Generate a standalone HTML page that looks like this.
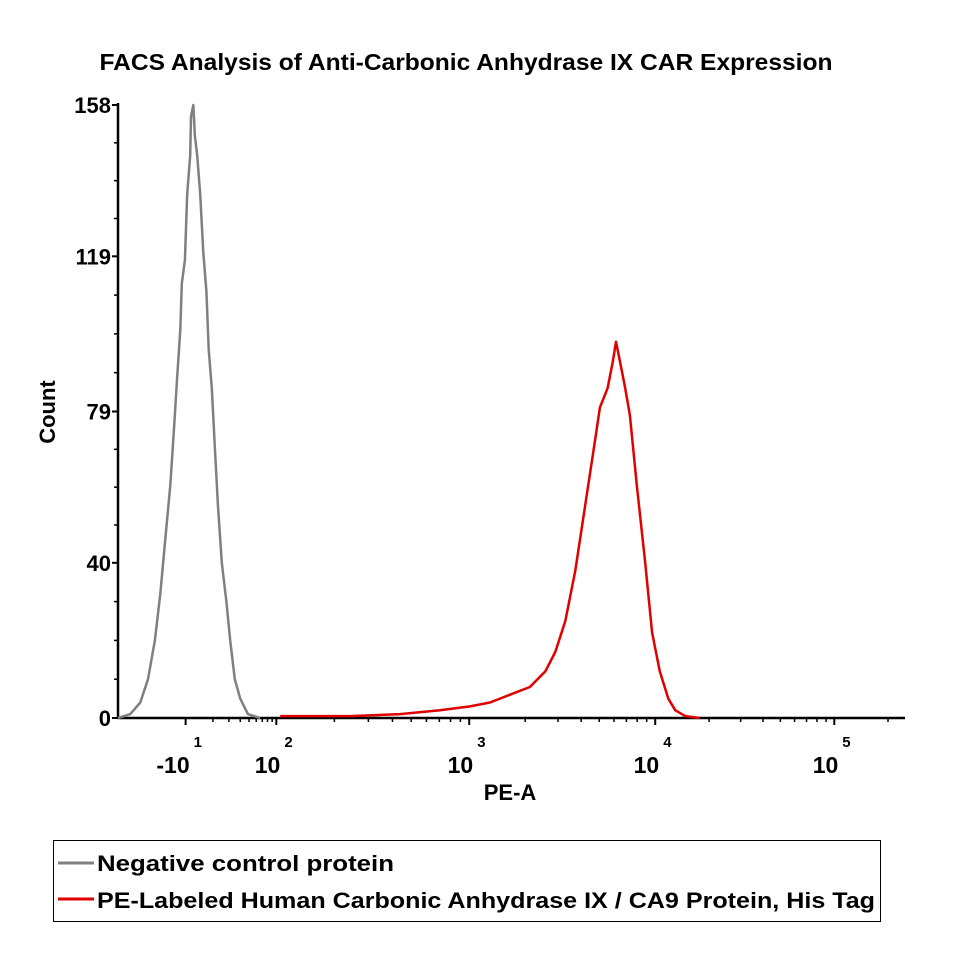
<!DOCTYPE html>
<html><head><meta charset="utf-8"><style>body{margin:0;background:#fff}svg{display:block;font-family:"Liberation Sans",sans-serif}</style></head>
<body>
<svg id="c" width="965" height="965">
<text x="466" y="70" text-anchor="middle" font-size="23" font-weight="bold" textLength="733" lengthAdjust="spacingAndGlyphs">FACS Analysis of Anti-Carbonic Anhydrase IX CAR Expression</text>
<g id="axes"></g>
<text x="55" y="412" font-size="22" font-weight="bold" transform="rotate(-90 55 412)" text-anchor="middle">Count</text>
<text x="510" y="800" font-size="22" font-weight="bold" text-anchor="middle">PE-A</text>
<g>
<rect x="53.5" y="840.5" width="827" height="81" fill="none" stroke="#000" stroke-width="1"/>
<g><line x1="58" y1="863" x2="94" y2="863" stroke="#808080" stroke-width="3"/><text x="97" y="871" font-size="22" font-weight="bold" textLength="297" lengthAdjust="spacingAndGlyphs">Negative control protein</text></g>
<g><line x1="58" y1="899" x2="94" y2="899" stroke="#e00000" stroke-width="3"/><text x="97" y="908" font-size="22" font-weight="bold" textLength="778" lengthAdjust="spacingAndGlyphs">PE-Labeled Human Carbonic Anhydrase IX / CA9 Protein, His Tag</text></g>
</g>
</svg>
<script>
const yTicks=[0,40,79,119,158];
const xTickChannels=[88,206,457,699,932];
const xTickBase=["-10","10","10","10","10"];
const xTickExp=["1","2","3","4","5"];
const grayX=[0,16,29,39,48,55,61,68,73,77,81,83,87,90,94,95,98,100,103,107,111,115,118,122,126,130,135,141,146,152,159,169,185];
const grayY=[0,1,4,10,20,32,45,60,75,88,100,112,118,135,145,155,158,150,145,135,120,110,95,85,70,55,40,30,20,10,5,1,0];
const redX=[211,302,367,419,458,484,510,536,556,569,582,595,608,621,627,637,644,648,653,660,666,675,686,695,705,716,725,738,757];
const redY=[0.5,0.5,1,2,3,4,6,8,12,17,25,38,55,72,80,85,92,97,92,85,78,60,40,22,12,5,2,0.5,0];
const X0=118,X1=905,Y0=718,Y1=105;
function xs(c){return X0+c*(X1-X0)/1024;}
function ys(v){return Y0-v*(Y0-Y1)/158;}
const NS="http://www.w3.org/2000/svg";
const svg=document.getElementById('c'),ax=document.getElementById('axes');
function mk(t,a,p){const e=document.createElementNS(NS,t);for(const k in a)e.setAttribute(k,a[k]);(p||svg).appendChild(e);return e;}
let e;
e=mk('line',{x1:X0,y1:Y0,x2:X1,y2:Y0,stroke:'#000','stroke-width':2.5},ax);


e=mk('line',{x1:X0,y1:Y0+1,x2:X0,y2:Y1-2,stroke:'#000','stroke-width':2.5},ax);


for(let i=0;i<yTicks.length;i++){
  const y=ys(yTicks[i]);
  mk('line',{x1:X0-6,y1:y,x2:X0,y2:y,stroke:'#000','stroke-width':2},ax);
  e=mk('text',{x:X0-7,y:y+8,'font-size':22,'font-weight':'bold','text-anchor':'end'},ax);
  e.textContent=yTicks[i];
  
  
  if(i<yTicks.length-1){for(let k=1;k<4;k++){const v=yTicks[i]+(yTicks[i+1]-yTicks[i])*k/4;const yy=ys(v);mk('line',{x1:X0-4,y1:yy,x2:X0,y2:yy,stroke:'#000','stroke-width':1.5},ax);}}
}
for(let i=0;i<xTickChannels.length;i++){
  const x=xs(xTickChannels[i]);
  mk('line',{x1:x,y1:Y0,x2:x,y2:Y0+7,stroke:'#000','stroke-width':2},ax);
  if(i>0){const a=xTickChannels[i-1],b=xTickChannels[i];for(let k=2;k<10;k++){const c=a+(b-a)*Math.log10(k);mk('line',{x1:xs(c),y1:Y0,x2:xs(c),y2:Y0+4,stroke:'#000','stroke-width':1.5},ax);}}
  e=mk('text',{x:x+4,y:773,'font-size':23,'font-weight':'bold','text-anchor':'end'},ax);
  e.textContent=xTickBase[i];
  
  
  e=mk('text',{x:x+8,y:747,'font-size':15,'font-weight':'bold','text-anchor':'start'},ax);
  e.textContent=xTickExp[i];
  
  
}
for(let c=xTickChannels[4]+(xTickChannels[4]-xTickChannels[3])*0.3;c<1024;c+=(xTickChannels[4]-xTickChannels[3])*0.3){mk('line',{x1:xs(c),y1:Y0,x2:xs(c),y2:Y0+4,stroke:'#000','stroke-width':1.5},ax);}
function path(X,Y,col,name){let d='';for(let i=0;i<X.length;i++)d+=(i?'L':'M')+xs(X[i]).toFixed(1)+','+ys(Y[i]).toFixed(1);
  const p=mk('path',{d:d,fill:'none',stroke:col,'stroke-width':2.5,'stroke-linejoin':'round'});
  
  }
path(redX,redY,'#e00000','pe-labeled-histogram');
path(grayX,grayY,'#808080','negative-control-histogram');
</script>
</body></html>
